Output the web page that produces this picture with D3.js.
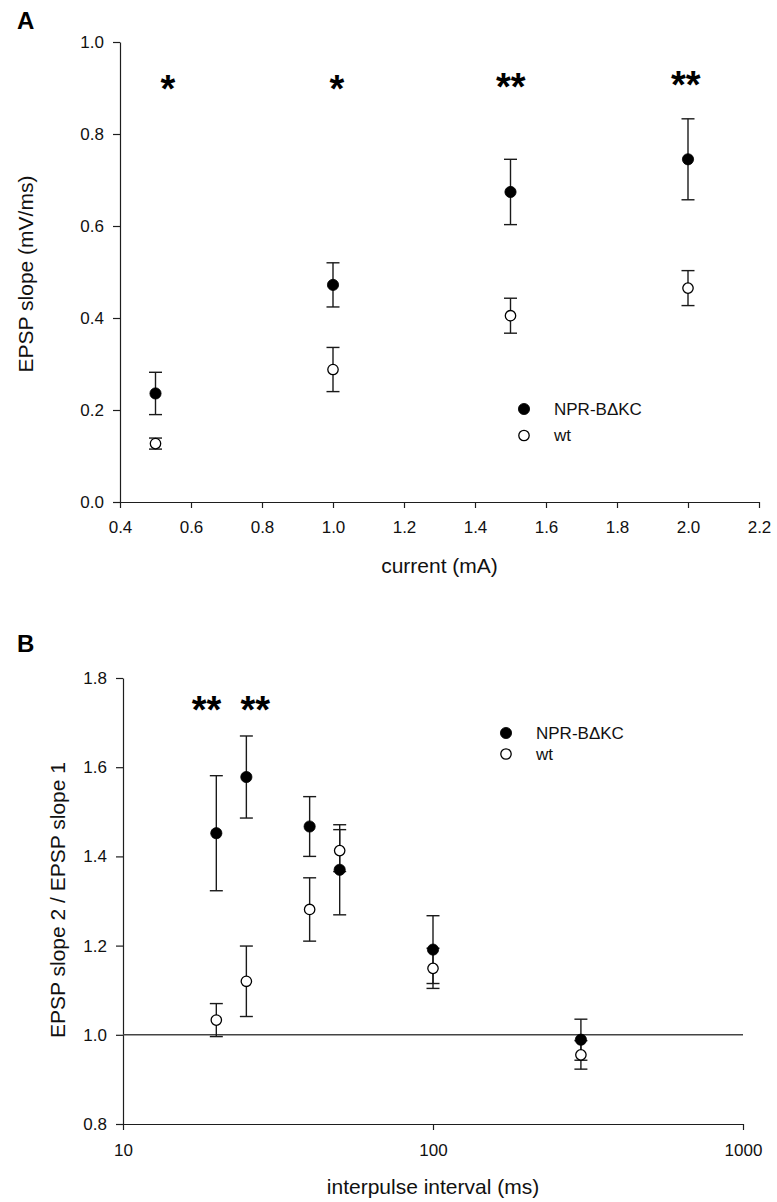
<!DOCTYPE html>
<html>
<head>
<meta charset="utf-8">
<script src="https://cdn.jsdelivr.net/npm/d3@7"></script>
<style>
  html, body { margin: 0; padding: 0; background: #fff; }
  svg { display: block; font-family: Arial, "Liberation Sans", sans-serif; }
</style>
</head>
<body>
<svg id="chart" width="777" height="1202"></svg>
<script>
// ---------- Panel A data ----------
const currentsA = [0.5, 1.0, 1.5, 2.0];
const nprA      = [0.236, 0.472, 0.674, 0.745];
const nprAErr   = [0.046, 0.048, 0.071, 0.088];
const wtA       = [0.127, 0.288, 0.405, 0.465];
const wtAErr    = [0.012, 0.048, 0.038, 0.038];
const starsAX   = [0.535, 1.011, 1.501, 1.994];
const starsAY   = [0.916, 0.916, 0.921, 0.925];
const starsALabel = ["*", "*", "**", "**"];
const ticksAX   = [0.4, 0.6, 0.8, 1.0, 1.2, 1.4, 1.6, 1.8, 2.0, 2.2];
const ticksAY   = [0.0, 0.2, 0.4, 0.6, 0.8, 1.0];

// ---------- Panel B data ----------
const intervalsB = [20, 25, 40, 50, 100, 300];
const nprB       = [1.452, 1.578, 1.467, 1.370, 1.191, 0.989];
const nprBErr    = [0.129, 0.092, 0.067, 0.101, 0.076, 0.046];
const wtB        = [1.033, 1.120, 1.281, 1.413, 1.149, 0.955];
const wtBErr     = [0.037, 0.079, 0.071, 0.047, 0.045, 0.032];
const starsBX    = [18.6, 26.7];
const starsBY    = [1.7475, 1.7475];
const starsBLabel = ["**", "**"];
const ticksBX    = [10, 100, 1000];
const ticksBY    = [0.8, 1.0, 1.2, 1.4, 1.6, 1.8];
const refLineB   = 1.0;

const seriesNames = ["NPR-B\u0394KC", "wt"];

const svg = d3.select("#chart");
const AXIS = "#1e1e1e";
const R = 5.6;
const CAP = 6.5;

function styleAxis(g) {
  g.selectAll("path, line").attr("stroke", AXIS).attr("stroke-width", 1.2);
  g.selectAll("text").attr("fill", "#111").attr("font-size", 17)
    .attr("font-family", "Arial, 'Liberation Sans', sans-serif");
}

function drawErrors(g, xs, ys, errs, x, y) {
  const grp = g.append("g").attr("stroke", "#1a1a1a").attr("stroke-width", 1.4).attr("fill", "none");
  xs.forEach((xv, i) => {
    const cx = x(xv), top = y(ys[i] + errs[i]), bot = y(ys[i] - errs[i]);
    grp.append("line").attr("x1", cx).attr("x2", cx).attr("y1", top).attr("y2", bot);
    grp.append("line").attr("x1", cx - CAP).attr("x2", cx + CAP).attr("y1", top).attr("y2", top);
    grp.append("line").attr("x1", cx - CAP).attr("x2", cx + CAP).attr("y1", bot).attr("y2", bot);
  });
}

function drawPoints(g, xs, ys, x, y, filled) {
  g.append("g").selectAll("circle").data(xs).join("circle")
    .attr("cx", d => x(d))
    .attr("cy", (d, i) => y(ys[i]))
    .attr("r", filled ? R : R - 0.4)
    .attr("fill", filled ? "#000" : "#fff")
    .attr("stroke", "#000")
    .attr("stroke-width", filled ? 0.8 : 1.3);
}

function drawStars(g, xs, ys, labels, x, y) {
  g.append("g").selectAll("text").data(xs).join("text")
    .attr("x", d => x(d))
    .attr("y", (d, i) => y(ys[i]))
    .attr("dy", "0.57em")
    .attr("text-anchor", "middle")
    .attr("font-size", 38)
    .attr("font-weight", "bold")
    .attr("fill", "#000")
    .text((d, i) => labels[i]);
}

function drawLegend(g, lx, ly, gap) {
  const lg = g.append("g");
  seriesNames.forEach((name, i) => {
    const yy = ly + i * gap;
    lg.append("circle").attr("cx", lx).attr("cy", yy)
      .attr("r", i === 0 ? R : R - 0.4)
      .attr("fill", i === 0 ? "#000" : "#fff")
      .attr("stroke", "#000").attr("stroke-width", i === 0 ? 0.8 : 1.3);
    lg.append("text").attr("x", lx + 30).attr("y", yy).attr("dy", "0.35em")
      .attr("font-size", 17).attr("fill", "#111").text(name);
  });
}

// ================= Panel A =================
{
  const x = d3.scaleLinear().domain([0.4, 2.2]).range([120, 759]);
  const y = d3.scaleLinear().domain([0, 1]).range([502, 42]);
  const g = svg.append("g");

  g.append("text").attr("x", 17).attr("y", 29).attr("font-size", 24)
    .attr("font-weight", "bold").attr("fill", "#000").text("A");

  const ax = g.append("g").attr("transform", `translate(0,${y(0)})`)
    .call(d3.axisBottom(x).tickValues(ticksAX).tickFormat(d3.format(".1f"))
      .tickSize(6).tickSizeOuter(0).tickPadding(13));
  styleAxis(ax);
  const ay = g.append("g").attr("transform", `translate(${x(0.4)},0)`)
    .call(d3.axisLeft(y).tickValues(ticksAY).tickFormat(d3.format(".1f"))
      .tickSize(7).tickSizeOuter(0).tickPadding(9));
  styleAxis(ay);

  g.append("text").attr("transform", "translate(33,274) rotate(-90)")
    .attr("text-anchor", "middle").attr("font-size", 21).attr("fill", "#111")
    .text("EPSP slope (mV/ms)");
  g.append("text").attr("x", (x(0.4) + x(2.2)) / 2).attr("y", 573)
    .attr("text-anchor", "middle").attr("font-size", 21).attr("fill", "#111")
    .text("current (mA)");

  drawErrors(g, currentsA, wtA, wtAErr, x, y);
  drawErrors(g, currentsA, nprA, nprAErr, x, y);
  drawPoints(g, currentsA, wtA, x, y, false);
  drawPoints(g, currentsA, nprA, x, y, true);
  drawStars(g, starsAX, starsAY, starsALabel, x, y);
  drawLegend(g, 524, 409, 26.5);
}

// ================= Panel B =================
{
  const x = d3.scaleLog().domain([10, 1000]).range([123, 743]);
  const y = d3.scaleLinear().domain([0.8, 1.8]).range([1124, 678]);
  const g = svg.append("g");

  g.append("text").attr("x", 17).attr("y", 652).attr("font-size", 24)
    .attr("font-weight", "bold").attr("fill", "#000").text("B");

  const ax = g.append("g").attr("transform", `translate(0,${y(0.8)})`)
    .call(d3.axisBottom(x).tickValues(ticksBX).tickFormat(d3.format("d"))
      .tickSize(6).tickSizeOuter(0).tickPadding(14));
  styleAxis(ax);
  const ay = g.append("g").attr("transform", `translate(${x(10)},0)`)
    .call(d3.axisLeft(y).tickValues(ticksBY).tickFormat(d3.format(".1f"))
      .tickSize(7).tickSizeOuter(0).tickPadding(9));
  styleAxis(ay);

  g.append("line").attr("x1", x(10)).attr("x2", x(1000))
    .attr("y1", y(refLineB)).attr("y2", y(refLineB))
    .attr("stroke", "#444").attr("stroke-width", 1.6);

  g.append("text").attr("transform", "translate(65,900) rotate(-90)")
    .attr("text-anchor", "middle").attr("font-size", 21).attr("fill", "#111")
    .text("EPSP slope 2 / EPSP slope 1");
  g.append("text").attr("x", (x(10) + x(1000)) / 2).attr("y", 1194)
    .attr("text-anchor", "middle").attr("font-size", 21).attr("fill", "#111")
    .text("interpulse interval (ms)");

  drawErrors(g, intervalsB, wtB, wtBErr, x, y);
  drawErrors(g, intervalsB, nprB, nprBErr, x, y);
  drawPoints(g, intervalsB, wtB, x, y, false);
  drawPoints(g, intervalsB, nprB, x, y, true);
  drawStars(g, starsBX, starsBY, starsBLabel, x, y);
  drawLegend(g, 506, 733, 21);
}
</script>
</body>
</html>
